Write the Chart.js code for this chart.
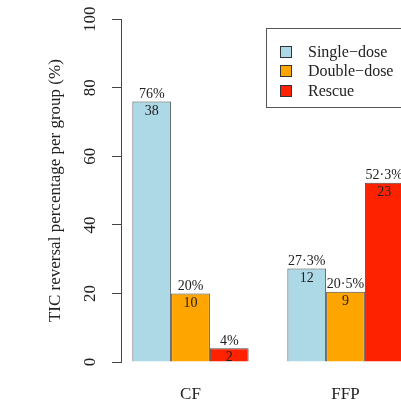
<!DOCTYPE html>
<html>
<head>
<meta charset="utf-8">
<script src="https://cdn.jsdelivr.net/npm/chart.js@4.4.1/dist/chart.umd.min.js"></script>
<style>
  html, body { margin: 0; padding: 0; background: #fff; overflow: hidden; }
  #wrap { position: relative; width: 401px; height: 405px; }
  #legend {
    position: absolute; left: 266px; top: 28px; width: 160px; height: 80px;
    border: 1px solid #555; box-sizing: border-box;
    font-family: "Liberation Serif", serif; font-size: 16px; color: #222;
    padding-top: 13px;
  }
  #legend .row { display: flex; align-items: center; height: 19.5px; }
  #legend .sw { width: 12px; height: 12px; border: 1px solid #333; box-sizing: border-box; margin-left: 13px; margin-right: 16px; }
</style>
</head>
<body>
<div id="wrap">
  <canvas id="chart" width="401" height="405"></canvas>
  <div id="legend"></div>
</div>
<script>
// Datos
const categories = ['CF', 'FFP'];
const seriesNames = ['Single\u2212dose', 'Double\u2212dose', 'Rescue'];
const seriesColors = ['#ADD8E6', '#FFA500', '#FF2200'];
const singleDose = [76, 27.3];
const doubleDose = [20, 20.5];
const rescue = [4, 52.3];
const singleCount = [38, 12];
const doubleCount = [10, 9];
const rescueCount = [2, 23];
const yTicks = [0, 20, 40, 60, 80, 100];

const values = [singleDose, doubleDose, rescue];
const counts = [singleCount, doubleCount, rescueCount];

function pctText(v) {
    return (Number.isInteger(v) ? String(v) : v.toFixed(1).replace('.', '\u00b7')) + '%';
}

// Etiquetas encima y dentro de cada barra
const barLabels = {
    id: 'barLabels',
    afterDatasetsDraw(chart) {
        const ctx = chart.ctx;
        ctx.save();
        ctx.font = '14px "Liberation Serif"';
        ctx.fillStyle = '#222';
        ctx.textAlign = 'center';
        chart.data.datasets.forEach((ds, d) => {
            const meta = chart.getDatasetMeta(d);
            meta.data.forEach((bar, i) => {
                ctx.textBaseline = 'alphabetic';
                ctx.fillText(pctText(values[d][i]), bar.x, bar.y - 3.5);
                ctx.textBaseline = 'top';
                ctx.fillText(String(counts[d][i]), bar.x, bar.y + 2.5);
            });
        });
        ctx.restore();
    }
};

const serif = '"Liberation Serif", serif';

new Chart(document.getElementById('chart'), {
    type: 'bar',
    data: {
        datasets: values.map((vals, d) => ({
            label: seriesNames[d],
            data: vals.map((v, i) => ({ x: i + 1, y: v })),
            backgroundColor: seriesColors[d],
            borderColor: '#4a4a4a',
            borderWidth: 1,
            barPercentage: 1,
            categoryPercentage: 0.75
        }))
    },
    options: {
        responsive: false,
        animation: false,
        layout: { padding: { top: 19, right: 0, bottom: 0, left: 0 } },
        plugins: {
            legend: { display: false },
            tooltip: { enabled: false }
        },
        scales: {
            x: {
                type: 'linear',
                offset: false,
                min: 0.5516,
                max: 2.3581,
                grid: { display: false, drawTicks: false },
                border: { display: false },
                afterBuildTicks: (scale) => {
                    scale.ticks = categories.map((c, i) => ({ value: i + 1 }));
                },
                afterFit: (scale) => { scale.height = 43; },
                ticks: {
                    padding: 22,
                    color: '#222',
                    font: { family: serif, size: 17 },
                    callback: (v) => categories[v - 1]
                }
            },
            y: {
                min: 0,
                max: 100,
                afterBuildTicks: (scale) => {
                    scale.ticks = yTicks.map(v => ({ value: v }));
                },
                afterFit: (scale) => { scale.width = 121; },
                grid: { drawOnChartArea: false, drawTicks: true, tickLength: 9, color: '#444' },
                border: { display: true, color: '#444' },
                ticks: {
                    minRotation: 90,
                    maxRotation: 90,
                    crossAlign: 'center',
                    padding: 9,
                    color: '#222',
                    font: { family: serif, size: 17 }
                },
                title: {
                    display: true,
                    text: 'TIC reversal percentage per group (%)',
                    color: '#222',
                    font: { family: serif, size: 17 },
                    padding: { top: 45, bottom: 0 }
                }
            }
        }
    },
    plugins: [barLabels]
});

// Leyenda en HTML
const legend = document.getElementById('legend');
seriesNames.forEach((name, d) => {
    const row = document.createElement('div');
    row.className = 'row';
    const sw = document.createElement('span');
    sw.className = 'sw';
    sw.style.background = seriesColors[d];
    const txt = document.createElement('span');
    txt.textContent = name;
    row.appendChild(sw);
    row.appendChild(txt);
    legend.appendChild(row);
});
</script>
</body>
</html>
